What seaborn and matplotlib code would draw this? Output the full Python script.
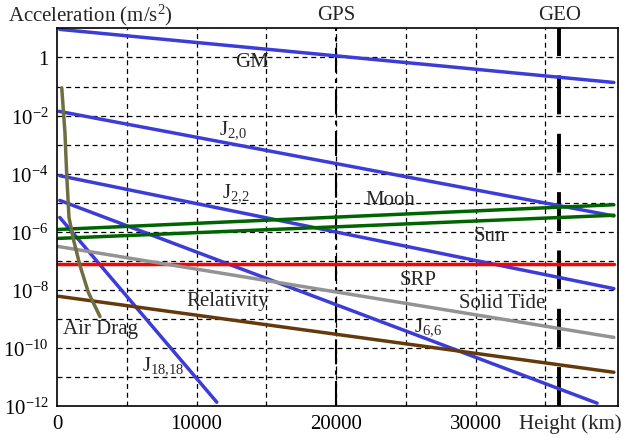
import matplotlib
matplotlib.use("Agg")
import matplotlib.pyplot as plt
import seaborn as sns
import numpy as np
import pandas as pd

# endpoints (height in km, acceleration in m/s^2)
gm_h = [200, 39900]
gm_a = [9.3, 0.138]
j20_h = [150, 39900]
j20_a = [1.4e-2, 3.5e-6]
j22_h = [200, 39900]
j22_a = [8.5e-5, 1.1e-8]
j66_h = [200, 38700]
j66_a = [1.2e-5, 1.25e-12]
j1818_h = [200, 11450]
j1818_a = [3.1e-6, 1.35e-12]
moon_h = [100, 39900]
moon_a = [1.2e-6, 8.5e-6]
sun_h = [100, 39900]
sun_a = [5.9e-7, 3.7e-6]
srp_h = [100, 39900]
srp_a = [7.7e-8, 7.7e-8]
tide_h = [100, 39900]
tide_a = [3.1e-7, 2.3e-10]
rel_h = [100, 39900]
rel_a = [6e-9, 1.45e-11]
drag_h = [340, 570, 700, 860, 1170, 1650, 2250, 3080]
drag_a = [9e-2, 2.6e-3, 8.5e-5, 3.1e-6, 5.6e-7, 6.8e-8, 8.1e-9, 1.2e-9]

labels = ["GM", "$J_{2{,}0}$", "$J_{2{,}2}$", "Moon", "Sun", "SRP", "Relativity",
          "Solid Tide", "$J_{6{,}6}$", "Air Drag", "$J_{18{,}18}$"]
label_h = [14000, 12600, 12800, 23900, 31000, 25900, 12200, 31900, 26600, 3100, 7600]
label_a = [0.74, 3.4e-3, 2.3e-5, 1.3e-5, 7.2e-7, 2.3e-8, 4.3e-9, 3.7e-9, 5.8e-10, 4.5e-10, 2.5e-11]

orbit_names = ["GPS", "GEO"]
orbit_h = [20000, 36000]

sns.set_theme(style="white")
plt.rcParams['font.family'] = ['Liberation Serif', 'DejaVu Serif']
plt.rcParams['mathtext.default'] = 'regular'

fig = plt.figure(figsize=(6.29, 4.39), dpi=100)
ax = fig.add_axes([0.0906, 0.0729, 0.892, 0.860])

blue = "#3c3cd6"
series = [
    (gm_h, gm_a, blue), (j20_h, j20_a, blue), (j22_h, j22_a, blue),
    (j66_h, j66_a, blue), (j1818_h, j1818_a, blue),
    (moon_h, moon_a, "#006400"), (sun_h, sun_a, "#006400"),
    (srp_h, srp_a, "#ff0000"), (tide_h, tide_a, "#939393"),
    (rel_h, rel_a, "#643a0c"), (drag_h, drag_a, "#6e6e42"),
]
for h, a, c in series:
    df = pd.DataFrame({"h": h, "a": a})
    sns.lineplot(data=df, x="h", y="a", color=c, lw=2.5, ax=ax, sort=False)

ax.set_yscale("log")
ax.set_xlim(0, 40200)
ax.set_ylim(1e-12, 10)

# grid
for gx in np.arange(5000, 40000, 5000):
    ax.axvline(gx, color="black", lw=0.9, ls=(0, (4, 3)), zorder=0)
for e in range(-11, 1):
    ax.axhline(10.0 ** e, color="black", lw=0.9, ls=(0, (4, 3)), zorder=0)

ax.axvline(orbit_h[0], color="black", lw=1.5, ls=(0, (12, 3, 2, 3)), zorder=1)
ax.axvline(orbit_h[1], color="black", lw=2.8, ls=(0, (10, 5)), zorder=1)
for name, h in zip(orbit_names, orbit_h):
    ax.text(h, 14, name, ha="center", va="bottom", fontsize=15)

for t, h, a in zip(labels, label_h, label_a):
    ax.text(h, a, t, ha="center", va="center", fontsize=15)

ax.set_xticks([0, 10000, 20000, 30000])
ax.set_xticklabels(["0", "10000", "20000", "30000"])
yt = [1e-12, 1e-10, 1e-8, 1e-6, 1e-4, 1e-2, 1]
ax.set_yticks(yt)
ax.set_yticklabels(["$10^{-12}$", "$10^{-10}$", "$10^{-8}$", "$10^{-6}$",
                    "$10^{-4}$", "$10^{-2}$", "1"])
ax.minorticks_off()
ax.tick_params(axis="both", length=0, labelsize=15, pad=6, colors="black")
ax.set_xlabel("")
ax.set_ylabel("")
for s in ax.spines.values():
    s.set_color("black")
    s.set_linewidth(1.2)

fig.text(0.013, 0.952, "Acceleration (m/s$^2$)", fontsize=15, ha="left", va="baseline")
fig.text(0.988, 0.033, "Height (km)", fontsize=15, ha="right", va="center")

fig.savefig("out.png", dpi=100)
